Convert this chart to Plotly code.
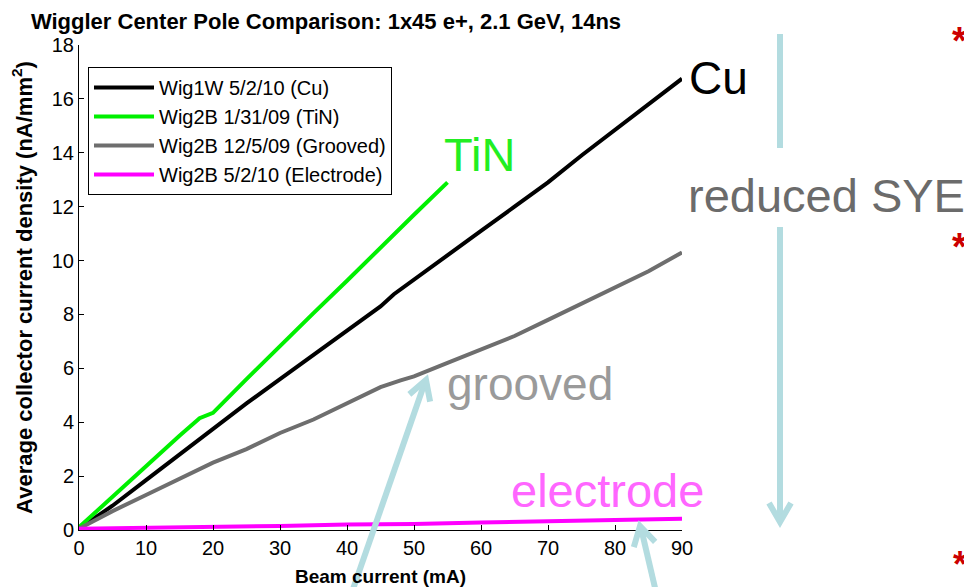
import math
import plotly.graph_objects as go

# ---------------- data ----------------
beam_cu = [0, 5, 10, 15, 20, 25, 30, 35, 40, 45, 47, 50, 55, 60, 65, 70, 75, 80, 85, 90]
dens_cu = [0.05, 0.9, 1.85, 2.8, 3.75, 4.7, 5.6, 6.5, 7.4, 8.3, 8.75, 9.3, 10.2, 11.1, 12.0, 12.9, 13.9, 14.85, 15.8, 16.75]

beam_tin = [0, 5, 10, 15, 18, 20, 25, 30, 35, 40, 45, 50, 55]
dens_tin = [0.1, 1.25, 2.4, 3.5, 4.15, 4.35, 5.6, 6.85, 8.05, 9.25, 10.5, 11.7, 12.9]

beam_grv = [0, 5, 10, 15, 20, 25, 30, 35, 40, 45, 48, 50, 55, 60, 65, 70, 75, 80, 85, 90]
dens_grv = [0.05, 0.7, 1.3, 1.9, 2.5, 3.0, 3.6, 4.1, 4.7, 5.3, 5.55, 5.7, 6.2, 6.7, 7.2, 7.8, 8.4, 9.0, 9.6, 10.3]

beam_ele = [0, 10, 20, 30, 40, 50, 60, 70, 80, 90]
dens_ele = [0.05, 0.08, 0.1, 0.15, 0.2, 0.22, 0.28, 0.32, 0.36, 0.42]

series_names = ["Wig1W 5/2/10 (Cu)", "Wig2B 1/31/09 (TiN)",
                "Wig2B 12/5/09 (Grooved)", "Wig2B 5/2/10 (Electrode)"]
x_ticks = [0, 10, 20, 30, 40, 50, 60, 70, 80, 90]
y_ticks = [0, 2, 4, 6, 8, 10, 12, 14, 16, 18]

title_text = "Wiggler Center Pole Comparison: 1x45 e+, 2.1 GeV, 14ns"
x_title = "Beam current (mA)"
y_title = "Average collector current density (nA/mm<sup>2</sup>)"

# ---------------- layout geometry ----------------
OFF = 8                          # page body margin of the html
W, H = 972 - OFF, 587 - OFF      # figure size so the page is exactly 972x587
L, R, T, B = 79, 682, 45, 530    # plot area in window pixels
FONT = "Liberation Sans, Arial, sans-serif"


def px(x):
    return (x - L) / (R - L)


def py(y):
    return (B - y) / (B - T)


fig = go.Figure()
colors = ["#000000", "#00f000", "#6e6e6e", "#ff00ff"]
for xs, ys, name, c in zip([beam_cu, beam_tin, beam_grv, beam_ele],
                           [dens_cu, dens_tin, dens_grv, dens_ele],
                           series_names, colors):
    fig.add_trace(go.Scatter(x=xs, y=ys, mode="lines", name=name,
                             line=dict(color=c, width=4)))

# ---------------- annotations (text on the slide) ----------------
ann = []


def text(s, x, y, size, color, anchor="left"):
    ann.append(dict(text=s, x=px(x), y=py(y), xref="paper", yref="paper",
                    xanchor=anchor, yanchor="middle", showarrow=False,
                    font=dict(family=FONT, size=size, color=color)))


text("Cu", 687, 78, 46, "#000000")
text("TiN", 442, 154, 47, "#22ee22")
text("grooved", 445, 384, 46, "#9a9a9a")
text("electrode", 509, 490, 47, "#ff66ff")
text("reduced SYE", 686, 195, 47, "#6b6b6b")
for yy, sz in [(41, 38), (247, 38), (564, 36)]:
    text("<b>*</b>", 969, yy, sz, "#cc0000", anchor="right")

# ---------------- arrows (light blue decorations) ----------------
shapes = []
ACOL = "#b3dce0"


def seg(x0, y0, x1, y1, w=6):
    shapes.append(dict(type="line", xref="paper", yref="paper",
                       x0=px(x0), y0=py(y0), x1=px(x1), y1=py(y1),
                       line=dict(color=ACOL, width=w)))


def head(tx, ty, fx, fy, length=22, ang=30, w=6):
    dx, dy = fx - tx, fy - ty
    n = math.hypot(dx, dy)
    dx, dy = dx / n, dy / n
    pts = []
    for s in (1, -1):
        a = math.radians(ang * s)
        rx = dx * math.cos(a) - dy * math.sin(a)
        ry = dx * math.sin(a) + dy * math.cos(a)
        pts.append((tx + rx * length, ty + ry * length))
    path = "M {} {} L {} {} L {} {}".format(px(pts[0][0]), py(pts[0][1]),
                                            px(tx), py(ty),
                                            px(pts[1][0]), py(pts[1][1]))
    shapes.append(dict(type="path", xref="paper", yref="paper", path=path,
                       line=dict(color=ACOL, width=w)))


# vertical arrow broken by the "reduced SYE" label
seg(780, 34, 780, 148)
seg(780, 227, 780, 520)
head(780, 522, 780, 300)
# arrow to grooved line
seg(352, 592, 425, 382)
head(426, 380, 352, 592)
# arrow to electrode line
seg(656, 592, 641, 528)
head(640, 526, 656, 592)

fig.update_layout(
    width=W, height=H,
    margin=dict(l=L - OFF, r=W - (R - OFF), t=T - OFF, b=H - (B - OFF), pad=0,
                autoexpand=False),
    paper_bgcolor="white", plot_bgcolor="white",
    font=dict(family=FONT, color="black"),
    title=dict(text="<b>" + title_text + "</b>", x=(326 - OFF) / W, xref="container",
               xanchor="center", y=1 - (21 - OFF) / H, yref="container", yanchor="middle",
               font=dict(size=22, color="black")),
    showlegend=True,
    legend=dict(x=px(88), y=py(67), xanchor="left", yanchor="top",
                bordercolor="black", borderwidth=1, bgcolor="white",
                itemwidth=60,
                font=dict(size=20, color="black")),
    annotations=ann, shapes=shapes,
)
fig.update_xaxes(range=[0, 90], tickvals=x_ticks, ticks="inside", ticklen=5,
                 tickcolor="black", showline=True, linecolor="black", linewidth=1,
                 showgrid=False, zeroline=False, tickfont=dict(size=20),
                 automargin=False,
                 title=dict(text="<b>" + x_title + "</b>", font=dict(size=19), standoff=12))
fig.update_yaxes(range=[0, 18], tickvals=y_ticks, ticks="inside", ticklen=5,
                 tickcolor="black", showline=True, linecolor="black", linewidth=1,
                 showgrid=False, zeroline=False, tickfont=dict(size=20),
                 automargin=False,
                 title=dict(text="<b>" + y_title + "</b>", font=dict(size=22), standoff=13))

fig.write_html("out.html")
